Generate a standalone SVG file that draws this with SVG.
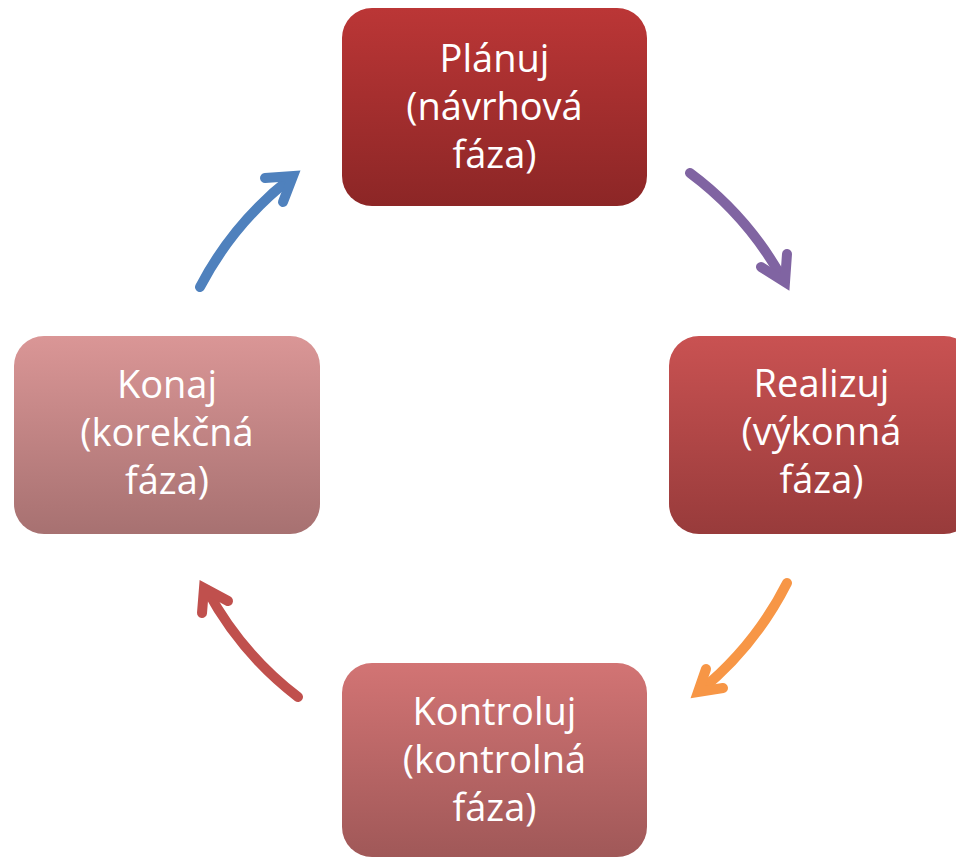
<svg xmlns="http://www.w3.org/2000/svg" width="956" height="858" viewBox="0 0 956 858">
<defs>
<linearGradient id="g1" x1="0" y1="0" x2="0" y2="1"><stop offset="0" stop-color="#bb3636"/><stop offset="1" stop-color="#8c2626"/></linearGradient>
<linearGradient id="g2" x1="0" y1="0" x2="0" y2="1"><stop offset="0" stop-color="#c95252"/><stop offset="1" stop-color="#983b3b"/></linearGradient>
<linearGradient id="g3" x1="0" y1="0" x2="0" y2="1"><stop offset="0" stop-color="#d27474"/><stop offset="1" stop-color="#a05858"/></linearGradient>
<linearGradient id="g4" x1="0" y1="0" x2="0" y2="1"><stop offset="0" stop-color="#da9696"/><stop offset="1" stop-color="#a77171"/></linearGradient>
</defs>
<style>
.box{stroke:none}
.t{font-family:"Open Sans",Lato,"Liberation Sans",sans-serif;font-size:38px;fill:#ffffff;text-anchor:middle}
.arr{fill:none;stroke-width:10;stroke-linecap:round}
.head{fill:none;stroke-width:10;stroke-linecap:round;stroke-linejoin:miter;stroke-miterlimit:10}
</style>
<g id="planuj">
<rect class="box" x="342" y="8" width="305" height="198" rx="30" fill="url(#g1)"/>
<text class="t" x="494.5" y="72">Plánuj</text>
<text class="t" x="494.5" y="120">(návrhová</text>
<text class="t" x="494.5" y="168">fáza)</text>
</g>
<g id="realizuj">
<rect class="box" x="669" y="336" width="305" height="198" rx="30" fill="url(#g2)"/>
<text class="t" x="821.5" y="397">Realizuj</text>
<text class="t" x="821.5" y="445">(výkonná</text>
<text class="t" x="821.5" y="493">fáza)</text>
</g>
<g id="kontroluj">
<rect class="box" x="342" y="663" width="305" height="194" rx="30" fill="url(#g3)"/>
<text class="t" x="494.5" y="725">Kontroluj</text>
<text class="t" x="494.5" y="773">(kontrolná</text>
<text class="t" x="494.5" y="821">fáza)</text>
</g>
<g id="konaj">
<rect class="box" x="14" y="336" width="306" height="198" rx="30" fill="url(#g4)"/>
<text class="t" x="167" y="398">Konaj</text>
<text class="t" x="167" y="446">(korekčná</text>
<text class="t" x="167" y="494">fáza)</text>
</g>
<g id="connectors">
<path class="arr" stroke="#8064a2" d="M690,173 A333,333 0 0 1 782,278"/>
<path class="head" stroke="#8064a2" d="M761,267 L785,282 L787,254"/>
<path class="arr" stroke="#f79646" d="M787,583 A333,333 0 0 1 700,691"/>
<path class="head" stroke="#f79646" d="M706,669 L698,692 L723,688"/>
<path class="arr" stroke="#c0504d" d="M298,697 A333,333 0 0 1 207,590"/>
<path class="head" stroke="#c0504d" d="M202,613 L204,588 L228,601"/>
<path class="arr" stroke="#4f81bd" d="M200,287 A333,333 0 0 1 291,178"/>
<path class="head" stroke="#4f81bd" d="M265,178 L293,176 L283,202"/>
</g>
</svg>
